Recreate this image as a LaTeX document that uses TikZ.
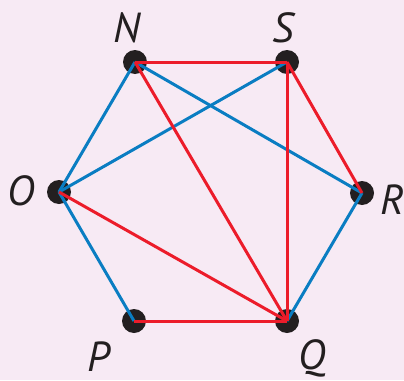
\documentclass[tikz,border=0pt]{standalone}
\usepackage{fontspec}
\setmainfont{PT Sans}
\definecolor{bg}{HTML}{F7EAF4}
\definecolor{eblue}{HTML}{0A7DC2}
\definecolor{ered}{HTML}{EC1C2A}
\definecolor{dotc}{HTML}{231F20}
\tikzset{
  vtx/.style={circle,fill=dotc,inner sep=0pt,minimum size=24pt},
  lbl/.style={font=\itshape\fontsize{42}{42}\selectfont,text=dotc,inner sep=0pt,anchor=base},
  bl/.style={draw=eblue,line width=3pt},
  rd/.style={draw=ered,line width=3pt},
}
\begin{document}
\begin{tikzpicture}[x=1pt,y=-1pt]
\fill[bg] (0,0) rectangle (404,380);
\useasboundingbox (0,0) rectangle (404,380);
\node[vtx] (N) at (135,62) {};
\node[vtx] (S) at (287,62) {};
\node[vtx] (R) at (362,193) {};
\node[vtx] (Q) at (287,321) {};
\node[vtx] (P) at (134,321) {};
\node[vtx] (O) at (59,192) {};
\draw[bl] (N.center) -- (O.center);
\draw[bl] (O.center) -- (P.center);
\draw[bl] (O.center) -- (S.center);
\draw[bl] (N.center) -- (R.center);
\draw[bl] (R.center) -- (Q.center);
\draw[rd] (N.center) -- (S.center);
\draw[rd] (N.center) -- (Q.center);
\draw[rd] (S.center) -- (Q.center);
\draw[rd] (S.center) -- (R.center);
\draw[rd] (O.center) -- (Q.center);
\draw[rd] (P.center) -- (Q.center);
\node[lbl] (tN) at (127,42) {N};
\node[lbl] (tS) at (283,42) {S};
\node[lbl] (tO) at (21,205) {O};
\node[lbl] (tR) at (392,214) {R};
\node[lbl] (tP) at (99,371) {P};
\node[lbl] (tQ) at (312,369) {Q};
\end{tikzpicture}
\end{document}
